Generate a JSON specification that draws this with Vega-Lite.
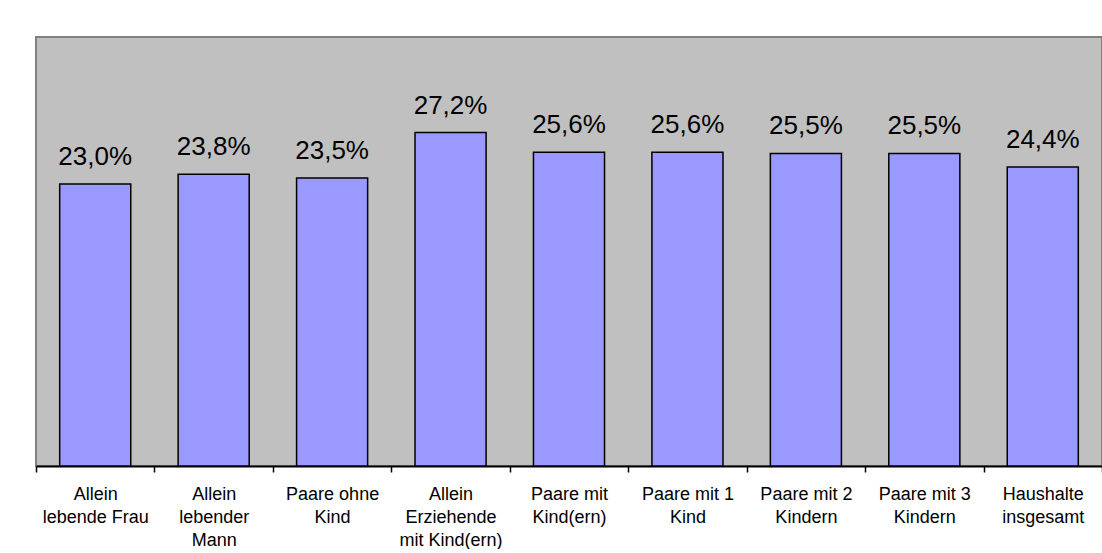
{
  "$schema": "https://vega.github.io/schema/vega-lite/v6.json",
  "width": 1066,
  "height": 429,
  "padding": {"left": 35, "top": 37, "right": 1, "bottom": 0},
  "background": "white",
  "data": {
    "values": [
      {"cat": "Allein\nlebende Frau", "v": 23.0, "label": "23,0%"},
      {"cat": "Allein\nlebender\nMann", "v": 23.8, "label": "23,8%"},
      {"cat": "Paare ohne\nKind", "v": 23.5, "label": "23,5%"},
      {"cat": "Allein\nErziehende\nmit Kind(ern)", "v": 27.2, "label": "27,2%"},
      {"cat": "Paare mit\nKind(ern)", "v": 25.6, "label": "25,6%"},
      {"cat": "Paare mit 1\nKind", "v": 25.6, "label": "25,6%"},
      {"cat": "Paare mit 2\nKindern", "v": 25.5, "label": "25,5%"},
      {"cat": "Paare mit 3\nKindern", "v": 25.5, "label": "25,5%"},
      {"cat": "Haushalte\ninsgesamt", "v": 24.4, "label": "24,4%"}
    ]
  },
  "encoding": {
    "x": {
      "field": "cat",
      "type": "nominal",
      "sort": null,
      "scale": {"paddingInner": 0, "paddingOuter": 0},
      "axis": {
        "title": null,
        "labelAngle": 0,
        "labelFont": "Liberation Sans",
        "labelFontSize": 18,
        "labelColor": "#000000",
        "labelLineHeight": 23,
        "labelPadding": 13,
        "labelLimit": 0,
        "labelExpr": "split(datum.label, '\\n')",
        "tickBand": "extent",
        "tickColor": "#000000",
        "tickSize": 6,
        "tickWidth": 1.5,
        "domainColor": "#000000",
        "domainWidth": 2,
        "grid": false
      }
    },
    "y": {
      "field": "v",
      "type": "quantitative",
      "scale": {"domain": [0, 35], "nice": false},
      "axis": null
    }
  },
  "layer": [
    {"mark": {"type": "bar", "width": {"band": 0.6}, "fill": "#9999FF", "stroke": "#000000", "strokeWidth": 1.5}},
    {
      "mark": {"type": "text", "font": "Liberation Sans", "fontSize": 26, "dy": -19, "baseline": "alphabetic", "color": "#000000"},
      "encoding": {"text": {"field": "label"}}
    }
  ],
  "config": {
    "view": {"fill": "#C0C0C0", "stroke": "#808080", "strokeWidth": 2}
  }
}
